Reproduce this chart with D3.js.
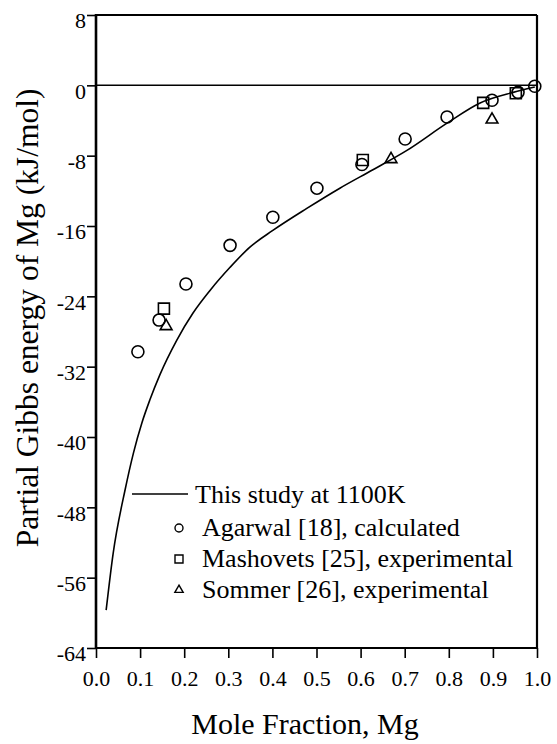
<!DOCTYPE html>
<html>
<head>
<meta charset="utf-8">
<script src="https://cdn.jsdelivr.net/npm/d3@7/dist/d3.min.js"></script>
<style>
  body { margin: 0; background: #fff; }
  svg text { font-family: "Liberation Serif", "Times New Roman", serif; fill: #000; }
</style>
</head>
<body>
<script>
// this study at 1100K (solid curve)
var curveX = [0.023, 0.039, 0.066, 0.085, 0.104, 0.122, 0.145, 0.183, 0.220, 0.259, 0.304, 0.349, 0.401, 0.478, 0.553, 0.628, 0.705, 0.796, 0.871, 0.946, 0.995];
var curveY = [-59.7, -53.2, -46.0, -41.8, -38.4, -35.8, -32.9, -29.0, -25.9, -23.3, -20.7, -18.4, -16.5, -14.0, -11.7, -9.6, -7.4, -4.3, -2.0, -0.8, -0.2];

// Agarwal [18], calculated (circles)
var agarwalX = [0.095, 0.143, 0.204, 0.304, 0.401, 0.501, 0.603, 0.701, 0.796, 0.898, 0.957, 0.995];
var agarwalY = [-30.3, -26.7, -22.6, -18.2, -15.0, -11.7, -9.0, -6.1, -3.6, -1.7, -0.8, -0.1];

// Mashovets [25], experimental (squares)
var mashovetsX = [0.154, 0.605, 0.878, 0.952];
var mashovetsY = [-25.4, -8.5, -2.0, -0.9];

// Sommer [26], experimental (triangles)
var sommerX = [0.159, 0.669, 0.898];
var sommerY = [-27.4, -8.4, -3.9];

var xTicks = [0, 0.1, 0.2, 0.3, 0.4, 0.5, 0.6, 0.7, 0.8, 0.9, 1.0];
var yTicks = [8, 0, -8, -16, -24, -32, -40, -48, -56, -64];

var legendLabels = ["This study at 1100K", "Agarwal [18], calculated", "Mashovets [25], experimental", "Sommer [26], experimental"];

(function() {
  var W = 557, H = 744;
  var mLeft = 96, mRight = 537, mTop = 15, mBottom = 648;

  var svg = d3.select("body").append("svg")
    .attr("width", W).attr("height", H);

  var x = d3.scaleLinear().domain([0, 1]).range([mLeft, mRight]);
  var y = d3.scaleLinear().domain([8, -64]).range([mTop, mBottom]);

  function zip(a, b) { return a.map(function(v, i) { return [v, b[i]]; }); }

  // axes
  var xAxis = svg.append("g")
    .attr("transform", "translate(0," + mBottom + ")")
    .call(d3.axisBottom(x).tickValues(xTicks).tickSize(10).tickPadding(12.5)
      .tickFormat(d3.format(".1f")));
  var yAxis = svg.append("g")
    .attr("transform", "translate(" + mLeft + ",0)")
    .call(d3.axisLeft(y).tickValues(yTicks).tickSize(9).tickPadding(1)
      .tickFormat(function(d) { return String(d); }));

  [xAxis, yAxis].forEach(function(g) {
    g.select(".domain").remove();
    g.selectAll(".tick line").attr("stroke", "#000").attr("stroke-width", 1.6);
    g.selectAll(".tick text").style("font-size", "22px").attr("font-family", null);
  });
  yAxis.selectAll(".tick text").attr("dy", "0.58em");
  svg.selectAll(".tick text").attr("font-size", null);

  // frame
  svg.append("line").attr("x1", mLeft).attr("x2", mLeft).attr("y1", mTop - 1).attr("y2", mBottom + 1)
    .attr("stroke", "#000").attr("stroke-width", 2.6);
  svg.append("line").attr("x1", mLeft).attr("x2", mRight).attr("y1", mTop).attr("y2", mTop)
    .attr("stroke", "#000").attr("stroke-width", 2.2);
  svg.append("line").attr("x1", mRight).attr("x2", mRight).attr("y1", mTop).attr("y2", mBottom)
    .attr("stroke", "#000").attr("stroke-width", 2.2);
  svg.append("line").attr("x1", mLeft).attr("x2", mRight).attr("y1", mBottom).attr("y2", mBottom)
    .attr("stroke", "#000").attr("stroke-width", 2.2);

  // zero line
  svg.append("line").attr("x1", mLeft).attr("x2", mRight).attr("y1", y(0)).attr("y2", y(0))
    .attr("stroke", "#000").attr("stroke-width", 1.5);

  // curve
  var line = d3.line().x(function(d) { return x(d[0]); }).y(function(d) { return y(d[1]); })
    .curve(d3.curveMonotoneX);
  svg.append("path").datum(zip(curveX, curveY))
    .attr("d", line).attr("fill", "none").attr("stroke", "#000").attr("stroke-width", 1.6);

  // markers
  var sym = {
    circle: d3.symbol().type(d3.symbolCircle).size(Math.PI * 36),
    square: d3.symbol().type(d3.symbolSquare).size(121),
    triangle: d3.symbol().type(d3.symbolTriangle).size(60)
  };
  function markers(xs, ys, kind) {
    svg.append("g").selectAll("path").data(zip(xs, ys)).enter().append("path")
      .attr("transform", function(d) { return "translate(" + x(d[0]) + "," + y(d[1]) + ")"; })
      .attr("d", sym[kind]())
      .attr("fill", "none").attr("stroke", "#000").attr("stroke-width", 1.6);
  }
  markers(agarwalX, agarwalY, "circle");
  markers(mashovetsX, mashovetsY, "square");
  markers(sommerX, sommerY, "triangle");

  // legend
  var lg = svg.append("g");
  lg.append("line").attr("x1", 132).attr("x2", 188).attr("y1", 494).attr("y2", 494)
    .attr("stroke", "#000").attr("stroke-width", 1.6);
  var legSym = [null,
    d3.symbol().type(d3.symbolCircle).size(Math.PI * 16),
    d3.symbol().type(d3.symbolSquare).size(64),
    d3.symbol().type(d3.symbolTriangle).size(30)];
  var legRows = [503, 536, 567, 598];
  legendLabels.forEach(function(t, i) {
    lg.append("text").attr("x", i === 0 ? 195 : 202).attr("y", legRows[i])
      .style("font-size", "26px").text(t);
    if (legSym[i]) {
      lg.append("path").attr("transform", "translate(179," + (legRows[i] - 8) + ")")
        .attr("d", legSym[i]()).attr("fill", "none").attr("stroke", "#000").attr("stroke-width", 1.4);
    }
  });

  // axis titles
  svg.append("text").attr("x", 305).attr("y", 734)
    .attr("text-anchor", "middle").style("font-size", "30px").text("Mole Fraction, Mg");
  svg.append("text").attr("transform", "translate(38,318) rotate(-90)")
    .attr("text-anchor", "middle").style("font-size", "31.5px")
    .text("Partial Gibbs energy of Mg (kJ/mol)");
})();
</script>
</body>
</html>
